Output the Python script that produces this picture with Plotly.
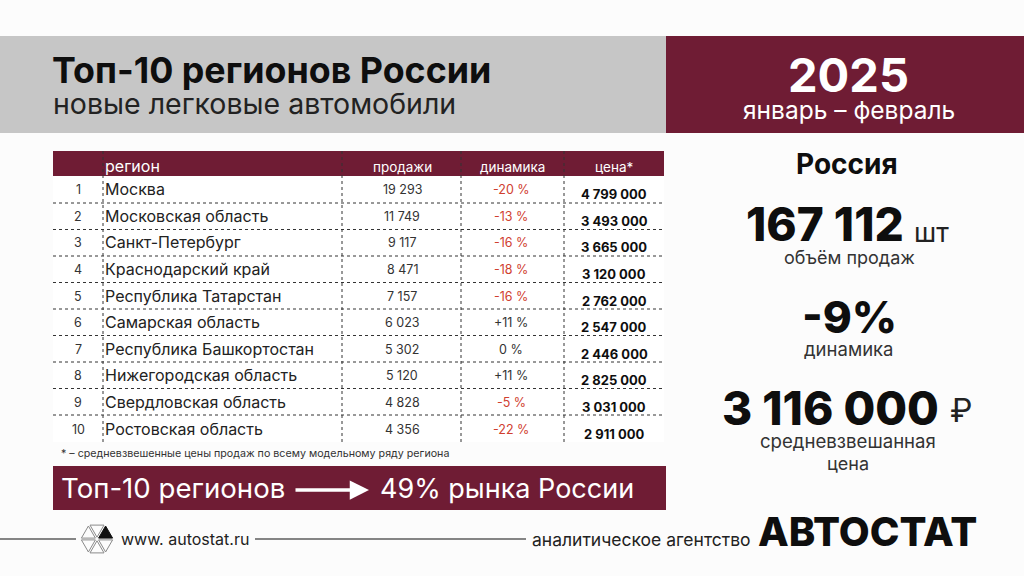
import math
import plotly.graph_objects as go

FONT = "Inter"
MAROON = "#6f1c34"
DARK = "#0e0e0e"
RED = "#d0402f"

# table data
ranks = ["1", "2", "3", "4", "5", "6", "7", "8", "9", "10"]
regions = ["Москва", "Московская область", "Санкт-Петербург", "Краснодарский край",
           "Республика Татарстан", "Самарская область", "Республика Башкортостан",
           "Нижегородская область", "Свердловская область", "Ростовская область"]
sales = ["19 293", "11 749", "9 117", "8 471", "7 157", "6 023", "5 302", "5 120", "4 828", "4 356"]
dynamics = ["-20 %", "-13 %", "-16 %", "-18 %", "-16 %", "+11 %", "0 %", "+11 %", "-5 %", "-22 %"]
prices = ["4 799 000", "3 493 000", "3 665 000", "3 120 000", "2 762 000",
          "2 547 000", "2 446 000", "2 825 000", "3 031 000", "2 911 000"]
headers = ["регион", "продажи", "динамика", "цена*"]

row_centers = [189, 216, 242, 269, 296, 322, 349, 375, 402, 429]
row_lines = [203, 229.5, 256, 282.5, 309, 335.5, 362, 388.5, 415, 441.5]
col_lines = [103, 342, 461, 564]

fig = go.Figure()


def text(x, y, s, size, color=DARK, anchor="center", weight=400):
    fig.add_annotation(x=x, y=y, text=s, showarrow=False,
                       xanchor=anchor, yanchor="middle", xref="x", yref="y",
                       borderpad=0, font=dict(family=FONT, size=size, color=color, weight=weight))


def rect(x0, y0, x1, y1, color):
    fig.add_shape(type="rect", x0=x0, y0=y0, x1=x1, y1=y1, fillcolor=color,
                  line_width=0, layer="below")


def line(x0, y0, x1, y1, color=DARK, width=1, dash="solid"):
    fig.add_shape(type="line", x0=x0, y0=y0, x1=x1, y1=y1,
                  line=dict(color=color, width=width, dash=dash))


# banners
rect(0, 36, 666, 133, "#c6c6c6")
rect(666, 36, 1024, 133, MAROON)
rect(53, 151, 664, 176, MAROON)
rect(53, 176, 664, 442, "#ffffff")
rect(53, 466, 666, 510, MAROON)

text(51, 70, "Топ-10 регионов России", 35.8, anchor="left", weight=700)
text(51.5, 103, "новые легковые автомобили", 28.5, color="#222222", anchor="left")
text(848, 74, "2025", 47, color="#ffffff", weight=700)
text(849, 110, "январь – февраль", 24.5, color="#ffffff")

# table
text(104, 166, headers[0], 16, color="#ffffff", anchor="left")
text(402, 167, headers[1], 13.5, color="#ffffff")
text(512, 167, headers[2], 13.5, color="#ffffff")
text(614, 167, headers[3], 13.5, color="#ffffff")

for i in range(10):
    y = row_centers[i]
    text(78, y, ranks[i], 12.5, color="#333333")
    text(103.5, y, regions[i], 16, color="#222222", anchor="left")
    text(402, y, sales[i], 12.5, color="#333333")
    col = RED if dynamics[i].startswith("-") else "#333333"
    text(511, y, dynamics[i], 12.5, color=col)
    text(614, y + 4.5, prices[i], 13, weight=700)

for y in row_lines[:-1]:
    line(53, y, 664, y, color="#333333", dash="dot")
for x in col_lines:
    line(x, 151, x, 442, color="#333333", dash="dot")

text(60, 453, "* – средневзвешенные цены продаж по всему модельному ряду региона", 10.7,
     color="#333333", anchor="left")

text(59.5, 488, "Топ-10 регионов", 27.6, color="#ffffff", anchor="left")
text(378.5, 488, "49% рынка России", 27, color="#ffffff", anchor="left")
fig.add_annotation(x=369, y=490, ax=294, ay=490, xref="x", yref="y", axref="x", ayref="y",
                   text="", showarrow=True, arrowhead=2, arrowsize=1.1, arrowwidth=3.5,
                   arrowcolor="#ffffff")

# right column
text(847, 164, "Россия", 28, weight=700)
text(825, 224, "167 112", 46, weight=800)
text(931, 232, "шт", 27, color="#222222")
text(849, 257, "объём продаж", 18, color="#333333")
text(849, 317, "-9%", 44, weight=800)
text(848, 349, "динамика", 18.5, color="#333333")
text(830, 408, "3 116 000", 46, weight=800)
text(961, 410, "₽", 32, color="#222222")
text(848, 441, "средневзвешанная", 18.6, color="#333333")
text(848, 463, "цена", 18, color="#333333")

# footer
line(0, 539, 76, 539, width=1)
line(255, 539, 526, 539, width=1)
text(120, 539, "www. autostat.ru", 16, color="#222222", anchor="left")
text(530.5, 539, "аналитическое агентство", 17.5, color="#222222", anchor="left")
text(867, 531, "АВТОСТАТ", 40, weight=800)

# logo, six triangles, upper right one filled
cx, cy, r = 97, 539, 14
for k in range(6):
    a0 = math.radians(-120 + 60 * k)
    a1 = math.radians(-60 + 60 * k)
    mid = (a0 + a1) / 2
    ox, oy = 1.8 * math.cos(mid), 1.8 * math.sin(mid)
    p = [(cx + ox, cy + oy), (cx + ox + r * math.cos(a0), cy + oy + r * math.sin(a0)),
         (cx + ox + r * math.cos(a1), cy + oy + r * math.sin(a1))]
    path = "M " + " L ".join(f"{a:.1f} {b:.1f}" for a, b in p) + " Z"
    filled = k == 1
    fig.add_shape(type="path", path=path,
                  line=dict(color="#111111" if filled else "#8a8a8a", width=1),
                  fillcolor="#111111" if filled else "rgba(0,0,0,0)")

fig.update_layout(width=1024, height=576, margin=dict(l=0, r=0, t=0, b=0),
                  paper_bgcolor="#fcfcfc", plot_bgcolor="#fcfcfc", showlegend=False,
                  xaxis=dict(range=[0, 1024], visible=False, fixedrange=True),
                  yaxis=dict(range=[576, 0], visible=False, fixedrange=True))

# page has a default body margin, drop it so the figure fills the window
fig.write_html("out.html", config={"displayModeBar": False},
               post_script="document.body.style.margin='0';document.documentElement.style.overflow='hidden';")
